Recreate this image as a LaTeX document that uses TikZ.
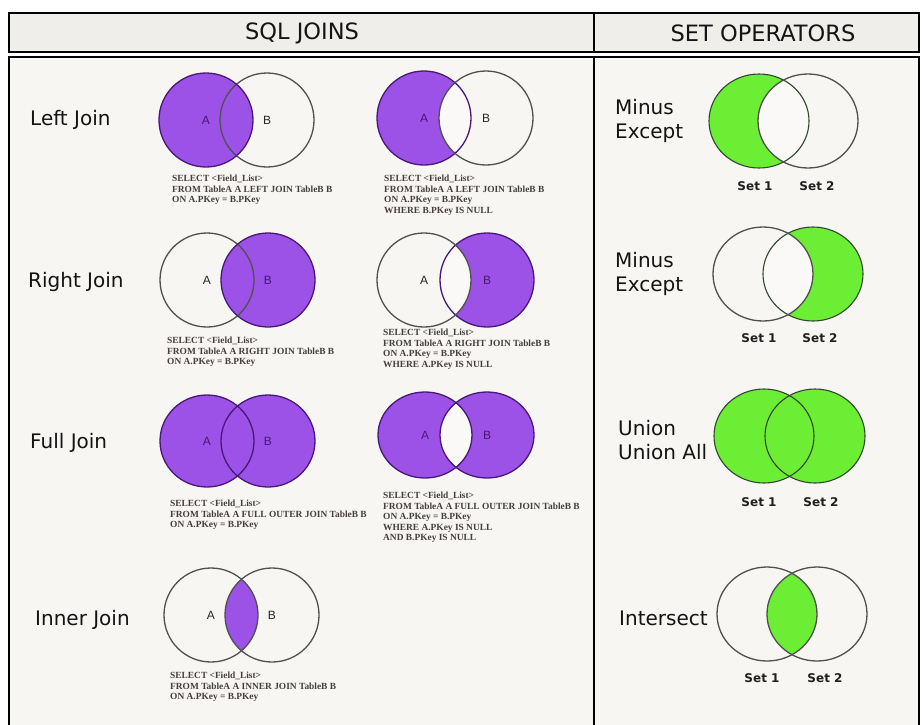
\documentclass[tikz,border=0pt]{standalone}
\usepackage{fontspec}
\setmainfont{DejaVu Sans}
\newfontfamily\sqlfont{Liberation Serif}
\newfontfamily\abfont{Liberation Sans}
\definecolor{bgc}{HTML}{F7F6F3}
\definecolor{hdrc}{HTML}{EFEEEB}
\definecolor{vpurple}{RGB}{156,82,230}
\definecolor{vpurpled}{RGB}{72,24,120}
\definecolor{vgreen}{RGB}{108,238,52}
\definecolor{vgreend}{RGB}{50,70,50}
\definecolor{vgray}{RGB}{80,80,80}
\definecolor{sqlc}{RGB}{70,62,62}
\definecolor{holec}{HTML}{FAF9F7}
\tikzset{
  frame/.style={draw=black, line width=2pt},
  sqltext/.style={anchor=north west, inner sep=0pt, align=left, text=sqlc,
    font=\sqlfont\bfseries\fontsize{9.4}{10.5}\selectfont},
  rowlabel/.style={anchor=base west, inner sep=0pt, text=black!92,
    font=\fontsize{20}{24}\selectfont},
  hdrtext/.style={inner sep=0pt, text=black!92, font=\fontsize{22.5}{26}\selectfont},
  setlabel/.style={inner sep=0pt, text=black!88, font=\bfseries\fontsize{12}{14}\selectfont},
  ablabel/.style={inner sep=0pt, font=\abfont\fontsize{12}{14}\selectfont},
  onpurple/.style={ablabel, text=vpurpled},
  onwhite/.style={ablabel, text=black!85},
  pline/.style={draw=vpurpled, line width=1.3pt},
  wline/.style={draw=vgray, line width=1.3pt},
  gline/.style={draw=vgreend, line width=1.1pt},
}
% region helpers: #1 centre A, #2 centre B, #3 x radius, #4 y radius, #5 colour
\newcommand{\fillA}[5]{\fill[#5] (#1) ellipse[x radius=#3pt, y radius=#4pt];}
\newcommand{\fillB}[5]{\fill[#5] (#2) ellipse[x radius=#3pt, y radius=#4pt];}
\newcommand{\fillAB}[5]{\begin{scope}\clip (#1) ellipse[x radius=#3pt, y radius=#4pt];
  \fill[#5] (#2) ellipse[x radius=#3pt, y radius=#4pt];\end{scope}}
\newcommand{\ringA}[4]{(#1) ellipse[x radius=#3pt, y radius=#4pt]}
\newcommand{\ringB}[4]{(#2) ellipse[x radius=#3pt, y radius=#4pt]}
\begin{document}
\begin{tikzpicture}[x=1pt, y=-1pt]
\useasboundingbox (0,0) rectangle (922,724);
\fill[white] (0,0) rectangle (922,724);
\fill[bgc] (9,57) rectangle (919,730);
\fill[hdrc] (9,13) rectangle (919,52);
\draw[frame] (9,13) rectangle (919,52);
\draw[frame] (594,13) -- (594,52);
\draw[frame] (9,730) -- (9,57) -- (919,57) -- (919,730);
\draw[frame] (594,57) -- (594,730);

\node[hdrtext] (h1) at (302,33) {SQL JOINS};
\node[hdrtext] (h2) at (763,33) {SET OPERATORS};

% ---------- row labels (left) ----------
\node[rowlabel] (lj) at (30,125) {Left Join};
\node[rowlabel] (rj) at (28,287) {Right Join};
\node[rowlabel] (fj) at (30,448) {Full Join};
\node[rowlabel] (ij) at (35,625) {Inner Join};

% ---------- Left join 1 ----------
\fillA{206,120}{267,120}{47}{47}{vpurple}
\draw[wline] \ringB{206,120}{267,120}{47}{47};
\draw[pline] \ringA{206,120}{267,120}{47}{47};
\node[onpurple] (lj1a) at (206,120) {A};
\node[onwhite] (lj1b) at (267,120) {B};
\node[sqltext] (lj1t) at (172,174.8) {SELECT <Field\_List>\\FROM TableA A LEFT JOIN TableB B\\ON A.PKey = B.PKey};

% ---------- Left join 2 ----------
\fillA{424,118}{486,118}{47}{47}{vpurple}
\fillAB{424,118}{486,118}{47}{47}{holec}
\draw[pline] \ringA{424,118}{486,118}{47}{47};
\draw[wline] \ringB{424,118}{486,118}{47}{47};
\node[onpurple] (lj2a) at (424,118) {A};
\node[onwhite] (lj2b) at (486,118) {B};
\node[sqltext] (lj2t) at (384,174.8) {SELECT <Field\_List>\\FROM TableA A LEFT JOIN TableB B\\ON A.PKey = B.PKey\\WHERE B.PKey IS NULL};

% ---------- Right join 1 ----------
\fillB{207,280}{268,280}{47}{47}{vpurple}
\draw[wline] \ringA{207,280}{268,280}{47}{47};
\draw[pline] \ringB{207,280}{268,280}{47}{47};
\node[onwhite] (rj1a) at (207,280) {A};
\node[onpurple] (rj1b) at (268,280) {B};
\node[sqltext] (rj1t) at (167,336.8) {SELECT <Field\_List>\\FROM TableA A RIGHT JOIN TableB B\\ON A.PKey = B.PKey};

% ---------- Right join 2 ----------
\fillB{424,280}{487,280}{47}{47}{vpurple}
\fillAB{424,280}{487,280}{47}{47}{holec}
\draw[pline] \ringB{424,280}{487,280}{47}{47};
\draw[wline] \ringA{424,280}{487,280}{47}{47};
\node[onwhite] (rj2a) at (424,280) {A};
\node[onpurple] (rj2b) at (487,280) {B};
\node[sqltext] (rj2t) at (383,328.8) {SELECT <Field\_List>\\FROM TableA A RIGHT JOIN TableB B\\ON A.PKey = B.PKey\\WHERE A.PKey IS NULL};

% ---------- Full join 1 ----------
\fillA{207,441}{268,441}{47}{46}{vpurple}
\fillB{207,441}{268,441}{47}{46}{vpurple}
\draw[pline] \ringA{207,441}{268,441}{47}{46};
\draw[pline] \ringB{207,441}{268,441}{47}{46};
\node[onpurple] (fj1a) at (207,441) {A};
\node[onpurple] (fj1b) at (268,441) {B};
\node[sqltext] (fj1t) at (170,499.8) {SELECT <Field\_List>\\FROM TableA A FULL OUTER JOIN TableB B\\ON A.PKey = B.PKey};

% ---------- Full join 2 ----------
\fillA{425,435}{487,435}{47}{43}{vpurple}
\fillB{425,435}{487,435}{47}{43}{vpurple}
\fillAB{425,435}{487,435}{47}{43}{holec}
\draw[pline] \ringA{425,435}{487,435}{47}{43};
\draw[pline] \ringB{425,435}{487,435}{47}{43};
\node[onpurple] (fj2a) at (425,435) {A};
\node[onpurple] (fj2b) at (487,435) {B};
\node[sqltext] (fj2t) at (383,491.8) {SELECT <Field\_List>\\FROM TableA A FULL OUTER JOIN TableB B\\ON A.PKey = B.PKey\\WHERE A.PKey IS NULL\\AND B.PKey IS NULL};

% ---------- Inner join ----------
\fillAB{211,615}{272,615}{47}{47}{vpurple}
\draw[wline] \ringA{211,615}{272,615}{47}{47};
\draw[wline] \ringB{211,615}{272,615}{47}{47};
\node[onwhite] (ija) at (211,615) {A};
\node[onwhite] (ijb) at (272,615) {B};
\node[sqltext] (ijt) at (170,671.8) {SELECT <Field\_List>\\FROM TableA A INNER JOIN TableB B\\ON A.PKey = B.PKey};

% ---------- Set operators ----------
% Minus 1
\node[rowlabel] (m1a) at (615,114) {Minus};
\node[rowlabel] (m1b) at (615,138) {Except};
\fillA{759,121}{808,121}{50}{47}{vgreen}
\fillAB{759,121}{808,121}{50}{47}{holec}
\draw[gline] \ringA{759,121}{808,121}{50}{47};
\draw[wline] \ringB{759,121}{808,121}{50}{47};
\node[setlabel] (s11) at (755,186) {Set 1};
\node[setlabel] (s12) at (817,186) {Set 2};

% Minus 2
\node[rowlabel] (m2a) at (615,267) {Minus};
\node[rowlabel] (m2b) at (615,291) {Except};
\fillB{763,274}{813,274}{50}{47}{vgreen}
\fillAB{763,274}{813,274}{50}{47}{holec}
\draw[gline] \ringB{763,274}{813,274}{50}{47};
\draw[wline] \ringA{763,274}{813,274}{50}{47};
\node[setlabel] (s21) at (759,338) {Set 1};
\node[setlabel] (s22) at (820,338) {Set 2};

% Union
\node[rowlabel] (u1) at (618,435) {Union};
\node[rowlabel] (u2) at (618,459) {Union All};
\fillA{764,436}{815,436}{50}{47}{vgreen}
\fillB{764,436}{815,436}{50}{47}{vgreen}
\draw[gline] \ringA{764,436}{815,436}{50}{47};
\draw[gline] \ringB{764,436}{815,436}{50}{47};
\node[setlabel] (s31) at (759,502) {Set 1};
\node[setlabel] (s32) at (821,502) {Set 2};

% Intersect
\node[rowlabel] (in1) at (619,625) {Intersect};
\fillAB{767,614}{817,614}{50}{47}{vgreen}
\draw[wline] \ringA{767,614}{817,614}{50}{47};
\draw[wline] \ringB{767,614}{817,614}{50}{47};
\node[setlabel] (s41) at (762,678) {Set 1};
\node[setlabel] (s42) at (825,678) {Set 2};
\end{tikzpicture}
\end{document}
